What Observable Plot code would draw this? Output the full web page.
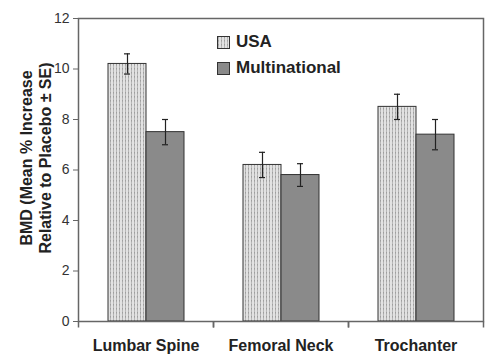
<!DOCTYPE html>
<html>
<head>
<meta charset="utf-8">
<script src="https://cdn.jsdelivr.net/npm/d3@7"></script>
<script src="https://cdn.jsdelivr.net/npm/@observablehq/plot@0.6"></script>
<style>
  html, body { margin: 0; padding: 0; background: #fff; }
  #wrap { position: relative; width: 501px; height: 363px; font-family: "Liberation Sans", Arial, sans-serif; }
  #legend { position: absolute; left: 217px; top: 29px; font-weight: bold; font-size: 17px; color: #222; }
  #legend .row { display: flex; align-items: center; height: 26px; }
  #legend svg { margin-right: 6px; }
</style>
</head>
<body>
<svg width="0" height="0" style="position:absolute">
  <defs>
    <pattern id="usaPattern" patternUnits="userSpaceOnUse" width="3" height="4">
      <rect width="3" height="4" fill="#e2e2e2"></rect>
      <path d="M1,0 L2,1 L1,2 L2,3 L1,4" stroke="#7e7e7e" stroke-width="0.8" stroke-dasharray="1.2,0.6" fill="none"></path>
    </pattern>
  </defs>
</svg>
<div id="wrap"><div id="legend"></div></div>
<script>
const categories = ["Lumbar Spine", "Femoral Neck", "Trochanter"];
const series = ["USA", "Multinational"];
const usaValues = [10.2, 6.2, 8.5];
const usaErrors = [0.4, 0.5, 0.5];
const multiValues = [7.5, 5.8, 7.4];
const multiErrors = [0.5, 0.45, 0.6];
const yTicks = [0, 2, 4, 6, 8, 10, 12];
const yLabel = "BMD (Mean % Increase\nRelative to Placebo ± SE)";

const fills = {"USA": "url(#usaPattern)", "Multinational": "#8a8a8a"};

const data = [];
categories.forEach((c, i) => {
  data.push({category: c, series: "USA", value: usaValues[i], se: usaErrors[i]});
  data.push({category: c, series: "Multinational", value: multiValues[i], se: multiErrors[i]});
});

const tickSymbol = { draw(ctx, size) { ctx.moveTo(0, 0); ctx.lineTo(0, 6); } };

const chart = Plot.plot({
  width: 501,
  height: 363,
  marginLeft: 77,
  marginRight: 18,
  marginTop: 18,
  marginBottom: 42,
  style: { fontFamily: "Liberation Sans, Arial, sans-serif", color: "#333", background: "transparent" },
  fx: { domain: categories, padding: 0 },
  x: { domain: series, paddingInner: 0, paddingOuter: 0.75, axis: null },
  y: { domain: [0, 12], ticks: yTicks },
  marks: [
    Plot.barY(data, {
      fx: "category", x: "series", y: "value",
      fill: d => fills[d.series], stroke: "#333", strokeWidth: 1
    }),
    Plot.ruleX(data, {
      fx: "category", x: "series", y1: d => d.value - d.se, y2: d => d.value + d.se,
      stroke: "#222", strokeWidth: 1.2
    }),
    Plot.tickY(data, {
      fx: "category", x: "series", y: d => d.value + d.se,
      stroke: "#222", strokeWidth: 1.2, insetLeft: 16, insetRight: 16
    }),
    Plot.tickY(data, {
      fx: "category", x: "series", y: d => d.value - d.se,
      stroke: "#222", strokeWidth: 1.2, insetLeft: 16, insetRight: 16
    }),
    Plot.frame({ facet: "super", stroke: "#666", strokeWidth: 1.5 }),
    Plot.dot(categories, { fx: d => d, frameAnchor: "bottom-left", symbol: tickSymbol, r: 3, stroke: "#666", fill: "none", strokeWidth: 1.5 }),
    Plot.dot(categories, { fx: d => d, frameAnchor: "bottom-right", symbol: tickSymbol, r: 3, stroke: "#666", fill: "none", strokeWidth: 1.5 }),
    Plot.axisY({ ticks: yTicks, tickSize: 5, tickPadding: 4, fontSize: 14, stroke: "#666", fill: "#333", label: null }),
    Plot.axisFx({ anchor: "bottom", tickSize: 0, tickPadding: 18, fontSize: 16, fontWeight: "bold", fill: "#222", label: null }),
    Plot.text([yLabel], {
      fx: () => categories[0], frameAnchor: "left", text: d => d, rotate: -90,
      textAnchor: "middle", lineAnchor: "middle",
      dx: -43, dy: -12, fontSize: 16, fontWeight: "bold", fill: "#222", lineHeight: 1.15
    })
  ]
});

const wrap = document.getElementById("wrap");
wrap.insertBefore(chart, wrap.firstChild);

const legend = document.getElementById("legend");
series.forEach(s => {
  const row = document.createElement("div");
  row.className = "row";
  row.innerHTML = `<svg width="13" height="13"><rect x="0.5" y="0.5" width="12" height="12" fill="${fills[s]}" stroke="#333"></rect></svg><span>${s}</span>`;
  legend.appendChild(row);
});
</script>
</body>
</html>
